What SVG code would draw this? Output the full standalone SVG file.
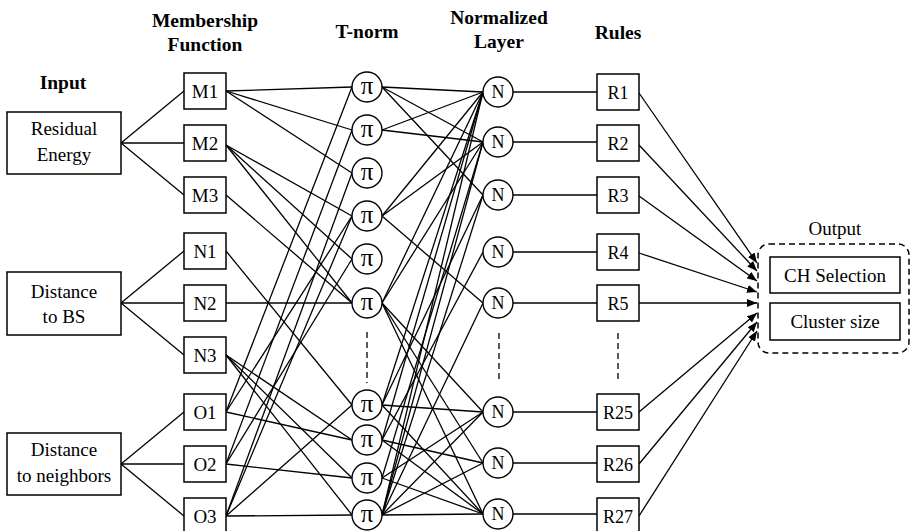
<svg xmlns="http://www.w3.org/2000/svg" width="911" height="531" viewBox="0 0 911 531">
<defs>
<style>
.box{fill:#fff;stroke:#000;stroke-width:1.5}
.cir{fill:#fff;stroke:#000;stroke-width:1.4}
.t{font-family:"Liberation Serif","Times New Roman",serif;font-size:19px;fill:#000;text-anchor:middle}
.r{font-size:18px}
.h{font-weight:bold;font-size:19.5px}
.pi{font-size:25px}
.ln line{stroke:#000;stroke-width:1.3;fill:none}
.dash{stroke:#000;stroke-width:1.3;stroke-dasharray:6 4;fill:none}
</style>
<marker id="ah" viewBox="0 0 10 8" refX="10" refY="4" markerWidth="10" markerHeight="8" markerUnits="userSpaceOnUse" orient="auto">
<path d="M0,0 L10,4 L0,8 z" fill="#000"/>
</marker>
</defs>
<rect width="911" height="531" fill="#fff"/>

<g id="headers">
<text class="t h" x="63" y="89">Input</text>
<text class="t h" x="205" y="27">Membership</text>
<text class="t h" x="205" y="51">Function</text>
<text class="t h" x="367" y="38">T-norm</text>
<text class="t h" x="499" y="24">Normalized</text>
<text class="t h" x="499" y="48">Layer</text>
<text class="t h" x="618" y="39">Rules</text>
</g>

<g id="connectors" class="ln">
<!-- inputs to MF -->
<line x1="121" y1="143" x2="184" y2="91"/>
<line x1="121" y1="143" x2="184" y2="143"/>
<line x1="121" y1="143" x2="184" y2="195"/>
<line x1="121" y1="303" x2="184" y2="251"/>
<line x1="121" y1="303" x2="184" y2="303"/>
<line x1="121" y1="303" x2="184" y2="355"/>
<line x1="121" y1="464" x2="184" y2="412"/>
<line x1="121" y1="464" x2="184" y2="464"/>
<line x1="121" y1="464" x2="184" y2="516"/>
<!-- MF to T-norm -->
<line x1="226" y1="91" x2="352" y2="87"/>
<line x1="226" y1="91" x2="352" y2="130"/>
<line x1="226" y1="91" x2="352" y2="173"/>
<line x1="226" y1="145" x2="352" y2="216"/>
<line x1="226" y1="145" x2="352" y2="259"/>
<line x1="226" y1="145" x2="352" y2="303"/>
<line x1="226" y1="195" x2="352" y2="303"/>
<line x1="226" y1="251" x2="352" y2="405"/>
<line x1="226" y1="303" x2="352" y2="303"/>
<line x1="226" y1="355" x2="352" y2="440"/>
<line x1="226" y1="355" x2="352" y2="478"/>
<line x1="226" y1="355" x2="352" y2="515"/>
<line x1="226" y1="412" x2="352" y2="87"/>
<line x1="226" y1="412" x2="352" y2="216"/>
<line x1="226" y1="412" x2="352" y2="440"/>
<line x1="226" y1="464" x2="352" y2="130"/>
<line x1="226" y1="464" x2="352" y2="259"/>
<line x1="226" y1="464" x2="352" y2="478"/>
<line x1="226" y1="516" x2="352" y2="173"/>
<line x1="226" y1="516" x2="352" y2="216"/>
<line x1="226" y1="516" x2="352" y2="405"/>
<line x1="226" y1="516" x2="352" y2="515"/>
<!-- T-norm to N -->
<line x1="382" y1="87" x2="483" y2="92"/>
<line x1="382" y1="87" x2="483" y2="142"/>
<line x1="382" y1="87" x2="483" y2="195"/>
<line x1="382" y1="130" x2="483" y2="92"/>
<line x1="382" y1="130" x2="483" y2="142"/>
<line x1="382" y1="216" x2="483" y2="92"/>
<line x1="382" y1="216" x2="483" y2="142"/>
<line x1="382" y1="216" x2="483" y2="303"/>
<line x1="382" y1="303" x2="483" y2="92"/>
<line x1="382" y1="303" x2="483" y2="142"/>
<line x1="382" y1="303" x2="483" y2="412"/>
<line x1="382" y1="303" x2="483" y2="463"/>
<line x1="382" y1="303" x2="483" y2="514"/>
<line x1="382" y1="405" x2="483" y2="92"/>
<line x1="382" y1="405" x2="483" y2="195"/>
<line x1="382" y1="405" x2="483" y2="412"/>
<line x1="382" y1="405" x2="483" y2="514"/>
<line x1="382" y1="440" x2="483" y2="92"/>
<line x1="382" y1="440" x2="483" y2="252"/>
<line x1="382" y1="440" x2="483" y2="463"/>
<line x1="382" y1="440" x2="483" y2="514"/>
<line x1="382" y1="478" x2="483" y2="142"/>
<line x1="382" y1="478" x2="483" y2="412"/>
<line x1="382" y1="478" x2="483" y2="514"/>
<line x1="382" y1="515" x2="483" y2="92"/>
<line x1="382" y1="515" x2="483" y2="142"/>
<line x1="382" y1="515" x2="483" y2="195"/>
<line x1="382" y1="515" x2="483" y2="303"/>
<line x1="382" y1="515" x2="483" y2="412"/>
<line x1="382" y1="515" x2="483" y2="463"/>
<line x1="382" y1="515" x2="483" y2="514"/>
<!-- N to rules -->
<line x1="513" y1="92" x2="597" y2="92"/>
<line x1="513" y1="142" x2="597" y2="142"/>
<line x1="513" y1="195" x2="597" y2="195"/>
<line x1="513" y1="252" x2="597" y2="252"/>
<line x1="513" y1="303" x2="597" y2="303"/>
<line x1="513" y1="412" x2="597" y2="412"/>
<line x1="513" y1="463" x2="597" y2="463"/>
<line x1="513" y1="514" x2="597" y2="514"/>
<!-- rules to output -->
<line x1="639" y1="93" x2="757" y2="263" marker-end="url(#ah)"/>
<line x1="639" y1="145" x2="757" y2="271" marker-end="url(#ah)"/>
<line x1="639" y1="196" x2="757" y2="281" marker-end="url(#ah)"/>
<line x1="639" y1="253" x2="757" y2="292" marker-end="url(#ah)"/>
<line x1="639" y1="303" x2="757" y2="303" marker-end="url(#ah)"/>
<line x1="639" y1="412" x2="757" y2="313" marker-end="url(#ah)"/>
<line x1="639" y1="464" x2="757" y2="322" marker-end="url(#ah)"/>
<line x1="639" y1="516" x2="757" y2="331" marker-end="url(#ah)"/>
<!-- ellipsis dashes -->
<line class="dash" x1="367" y1="332" x2="367" y2="383"/>
<line class="dash" x1="499" y1="333" x2="499" y2="383"/>
<line class="dash" x1="618" y1="333" x2="618" y2="383"/>
</g>

<g id="in-residual"><rect class="box" x="7" y="112" width="114" height="62"/><text class="t" x="64" y="135">Residual</text><text class="t" x="64" y="161">Energy</text></g>
<g id="in-bs"><rect class="box" x="7" y="272" width="114" height="63"/><text class="t" x="64" y="298">Distance</text><text class="t" x="64" y="323">to BS</text></g>
<g id="in-neighbors"><rect class="box" x="7" y="433" width="114" height="62"/><text class="t" x="64" y="456">Distance</text><text class="t" x="64" y="482">to neighbors</text></g>

<g id="mf-M1"><rect class="box" x="184" y="73" width="42" height="36"/><text class="t" x="205" y="98">M1</text></g>
<g id="mf-M2"><rect class="box" x="184" y="125" width="42" height="36"/><text class="t" x="205" y="150">M2</text></g>
<g id="mf-M3"><rect class="box" x="184" y="177" width="42" height="36"/><text class="t" x="205" y="202">M3</text></g>
<g id="mf-N1"><rect class="box" x="184" y="233" width="42" height="36"/><text class="t" x="205" y="258">N1</text></g>
<g id="mf-N2"><rect class="box" x="184" y="285" width="42" height="36"/><text class="t" x="205" y="310">N2</text></g>
<g id="mf-N3"><rect class="box" x="184" y="337" width="42" height="36"/><text class="t" x="205" y="362">N3</text></g>
<g id="mf-O1"><rect class="box" x="184" y="394" width="42" height="36"/><text class="t" x="205" y="419">O1</text></g>
<g id="mf-O2"><rect class="box" x="184" y="446" width="42" height="36"/><text class="t" x="205" y="471">O2</text></g>
<g id="mf-O3"><rect class="box" x="184" y="498" width="42" height="36"/><text class="t" x="205" y="523">O3</text></g>

<g id="t1"><circle class="cir" cx="367" cy="87" r="15"/><text class="t pi" x="367" y="94">π</text></g>
<g id="t2"><circle class="cir" cx="367" cy="130" r="15"/><text class="t pi" x="367" y="137">π</text></g>
<g id="t3"><circle class="cir" cx="367" cy="173" r="15"/><text class="t pi" x="367" y="180">π</text></g>
<g id="t4"><circle class="cir" cx="367" cy="216" r="15"/><text class="t pi" x="367" y="223">π</text></g>
<g id="t5"><circle class="cir" cx="367" cy="259" r="15"/><text class="t pi" x="367" y="266">π</text></g>
<g id="t6"><circle class="cir" cx="367" cy="303" r="15"/><text class="t pi" x="367" y="310">π</text></g>
<g id="t7"><circle class="cir" cx="367" cy="405" r="15"/><text class="t pi" x="367" y="412">π</text></g>
<g id="t8"><circle class="cir" cx="367" cy="440" r="15"/><text class="t pi" x="367" y="447">π</text></g>
<g id="t9"><circle class="cir" cx="367" cy="478" r="15"/><text class="t pi" x="367" y="485">π</text></g>
<g id="t10"><circle class="cir" cx="367" cy="515" r="15"/><text class="t pi" x="367" y="522">π</text></g>

<g id="n1"><circle class="cir" cx="498" cy="92" r="15"/><text class="t r" x="498" y="98">N</text></g>
<g id="n2"><circle class="cir" cx="498" cy="142" r="15"/><text class="t r" x="498" y="148">N</text></g>
<g id="n3"><circle class="cir" cx="498" cy="195" r="15"/><text class="t r" x="498" y="201">N</text></g>
<g id="n4"><circle class="cir" cx="498" cy="252" r="15"/><text class="t r" x="498" y="258">N</text></g>
<g id="n5"><circle class="cir" cx="498" cy="303" r="15"/><text class="t r" x="498" y="309">N</text></g>
<g id="n6"><circle class="cir" cx="498" cy="412" r="15"/><text class="t r" x="498" y="418">N</text></g>
<g id="n7"><circle class="cir" cx="498" cy="463" r="15"/><text class="t r" x="498" y="469">N</text></g>
<g id="n8"><circle class="cir" cx="498" cy="514" r="15"/><text class="t r" x="498" y="520">N</text></g>

<g id="r1"><rect class="box" x="597" y="74" width="42" height="36"/><text class="t r" x="618" y="99">R1</text></g>
<g id="r2"><rect class="box" x="597" y="125" width="42" height="36"/><text class="t r" x="618" y="150">R2</text></g>
<g id="r3"><rect class="box" x="597" y="177" width="42" height="36"/><text class="t r" x="618" y="202">R3</text></g>
<g id="r4"><rect class="box" x="597" y="234" width="42" height="36"/><text class="t r" x="618" y="259">R4</text></g>
<g id="r5"><rect class="box" x="597" y="285" width="42" height="36"/><text class="t r" x="618" y="310">R5</text></g>
<g id="r25"><rect class="box" x="597" y="394" width="42" height="36"/><text class="t r" x="618" y="419">R25</text></g>
<g id="r26"><rect class="box" x="597" y="446" width="42" height="36"/><text class="t r" x="618" y="471">R26</text></g>
<g id="r27"><rect class="box" x="597" y="498" width="42" height="36"/><text class="t r" x="618" y="523">R27</text></g>

<g id="output">
<text class="t" x="835" y="235">Output</text>
<rect x="758" y="244" width="151" height="109" rx="11" fill="none" stroke="#000" stroke-width="1.5" stroke-dasharray="6 4"/>
<rect class="box" x="770" y="257" width="130" height="36"/>
<text class="t" x="835" y="282">CH Selection</text>
<rect class="box" x="770" y="303" width="130" height="37"/>
<text class="t" x="835" y="328">Cluster size</text>
</g>
</svg>
